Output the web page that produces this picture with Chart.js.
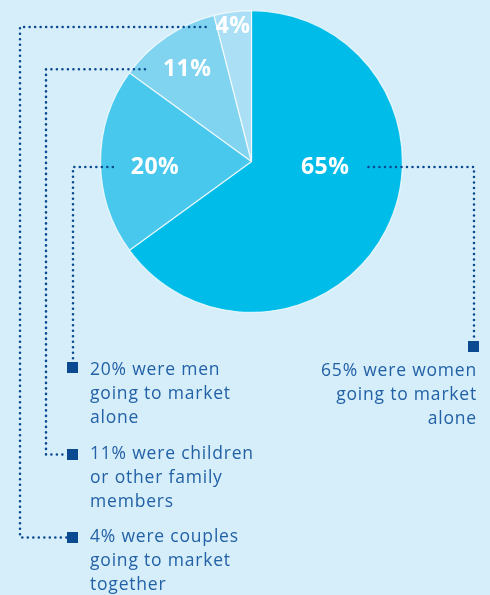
<!DOCTYPE html>
<html>
<head>
<meta charset="utf-8">
<script src="https://cdn.jsdelivr.net/npm/chart.js@4/dist/chart.umd.min.js"></script>
<style>
html,body{margin:0;padding:0;background:#d6eef9;}
#wrap{position:relative;width:490px;height:595px;}
</style>
</head>
<body>
<div id="wrap"><canvas id="ch1" width="490" height="595"></canvas></div>
<script>
// valores (sentido horário a partir do topo)
const SHARES = [65, 20, 11, 4];
const PCT_LABELS = ['65%', '20%', '11%', '4%'];
const LEGEND_TEXT = [
  ['65% were women', 'going to market', 'alone'],
  ['20% were men', 'going to market', 'alone'],
  ['11% were children', 'or other family', 'members'],
  ['4% were couples', 'going to market', 'together']
];
const SLICE_COLORS = ['#00bce8', '#48c8ec', '#80d4f0', '#aadff5'];

const DOT = '#0b4a91';
const TXT = '#2361a6';

// posição dos rótulos: desvio angular (graus) do meio da fatia e fração do raio
const LBL_POS = [{da:-22.7, f:0.49}, {da:-3.3, f:0.64}, {da:-0.7, f:0.745}, {da:-0.6, f:0.9}];

// layout das linhas pontilhadas e legendas
const LEG = [
  {gap:19, lineX:474, sqX:468, sqY:341, txtX:477, txtY:371, align:'right'},
  {gap:18, lineX:73,  sqX:67,  sqY:362, txtX:90,  txtY:370, align:'left'},
  {gap:18, lineX:46,  sqX:67,  sqY:449, txtX:90,  txtY:454, align:'left', elbow:true},
  {gap:10, lineX:20,  sqX:67,  sqY:532, txtX:90,  txtY:537, align:'left', elbow:true}
];

function dotted(ctx, pts){
  ctx.save();
  ctx.strokeStyle = DOT;
  ctx.lineWidth = 2.6;
  ctx.lineCap = 'round';
  ctx.setLineDash([0, 5.5]);
  ctx.beginPath();
  ctx.moveTo(pts[0][0], pts[0][1]);
  for(let i=1;i<pts.length;i++) ctx.lineTo(pts[i][0], pts[i][1]);
  ctx.stroke();
  ctx.restore();
}

const annot = {
  id: 'annot',
  afterDatasetsDraw(chart){
    const ctx = chart.ctx;
    const meta = chart.getDatasetMeta(0);
    meta.data.forEach((arc, i) => {
      const p = arc.getProps(['x','y','startAngle','endAngle','outerRadius']);
      const mid = (p.startAngle + p.endAngle)/2 + LBL_POS[i].da*Math.PI/180;
      const r = p.outerRadius*LBL_POS[i].f;
      const lx = p.x + Math.cos(mid)*r;
      const ly = p.y + Math.sin(mid)*r;

      ctx.save();
      ctx.font = 'bold 23px "Open Sans", sans-serif';
      ctx.letterSpacing = '0.5px';
      ctx.fillStyle = '#ffffff';
      ctx.textAlign = 'center';
      ctx.textBaseline = 'middle';
      ctx.fillText(PCT_LABELS[i], lx, ly);
      const w = ctx.measureText(PCT_LABELS[i]).width;
      ctx.restore();

      const L = LEG[i];
      const sx = L.align === 'right' ? lx + w/2 + L.gap : lx - w/2 - L.gap;
      const pts = [[sx, ly], [L.lineX, ly]];
      if(L.elbow){
        pts.push([L.lineX, L.sqY + 5.5]);
        pts.push([L.sqX, L.sqY + 5.5]);
      } else {
        pts.push([L.lineX, L.sqY]);
      }
      dotted(ctx, pts);

      ctx.save();
      ctx.fillStyle = DOT;
      ctx.fillRect(L.sqX, L.sqY, 11, 11);
      ctx.font = '17.5px "Open Sans", sans-serif';
      ctx.letterSpacing = '0.8px';
      ctx.fillStyle = TXT;
      ctx.textAlign = L.align;
      ctx.textBaseline = 'middle';
      LEGEND_TEXT[i].forEach((t, k) => ctx.fillText(t, L.txtX, L.txtY + k*24));
      ctx.restore();
    });
  }
};

new Chart(document.getElementById('ch1'), {
  type: 'pie',
  data: {
    labels: PCT_LABELS,
    datasets: [{
      data: SHARES,
      backgroundColor: SLICE_COLORS,
      borderColor: 'rgba(255,255,255,0.75)',
      borderWidth: 1.2
    }]
  },
  options: {
    responsive: false,
    animation: false,
    layout: {padding: {top: 10, bottom: 282, left: 100, right: 87}},
    plugins: {legend: {display: false}, tooltip: {enabled: false}}
  },
  plugins: [annot]
});
</script>
</body>
</html>
